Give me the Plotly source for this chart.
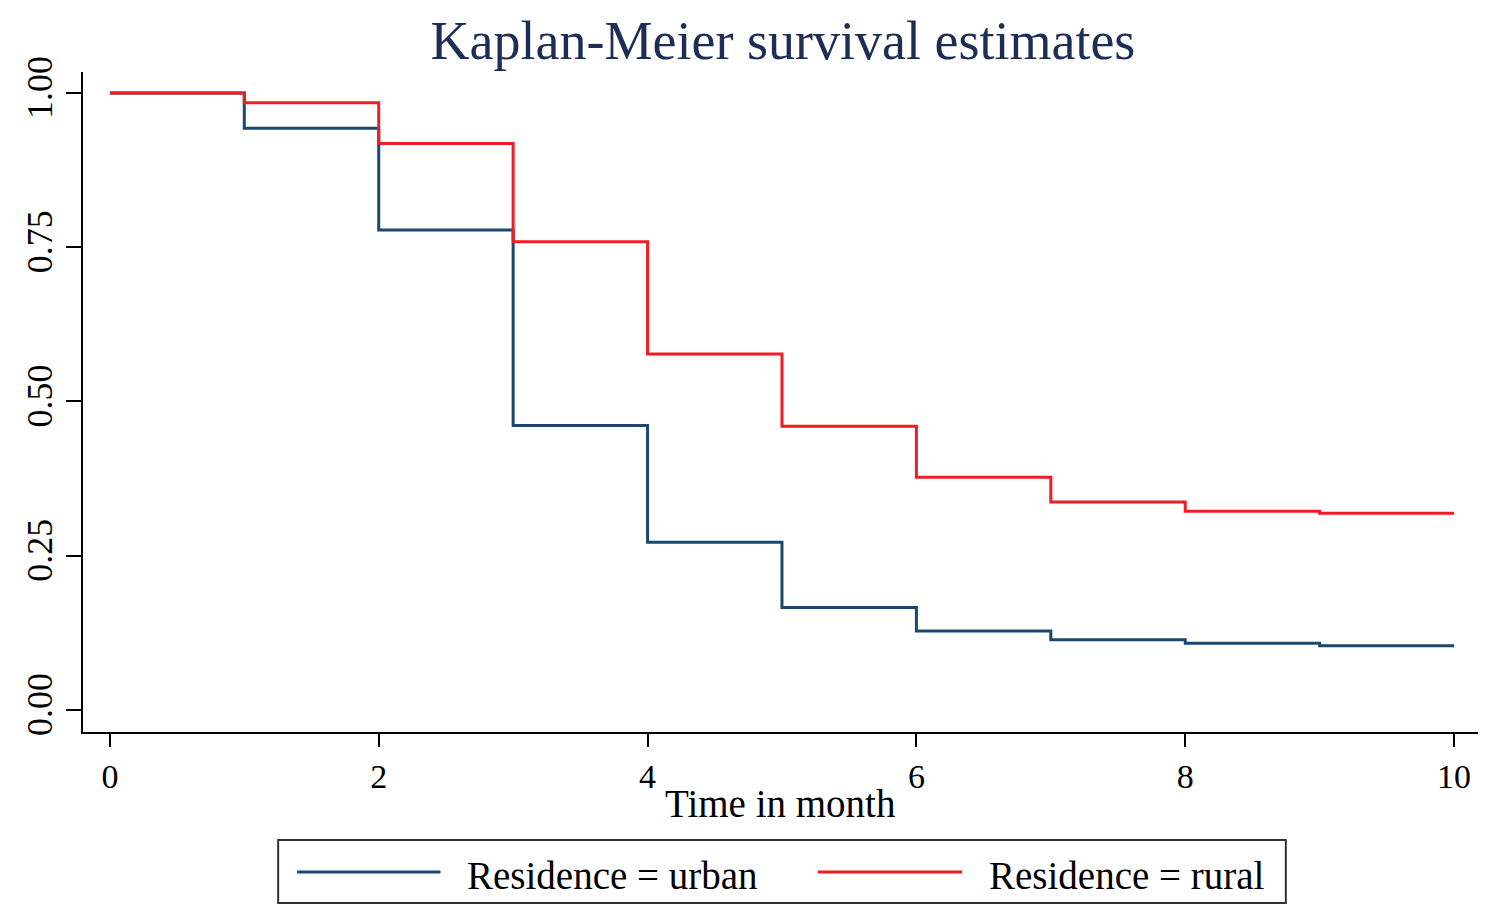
import plotly.graph_objects as go

time_months = [0, 1, 2, 3, 4, 5, 6, 7, 8, 9, 10]
urban_surv = [1.0, 0.943, 0.778, 0.461, 0.272, 0.166, 0.128, 0.114, 0.108, 0.104, 0.104]
rural_surv = [1.0, 0.984, 0.918, 0.759, 0.577, 0.460, 0.377, 0.337, 0.322, 0.319, 0.319]
x_ticks = [0, 2, 4, 6, 8, 10]
y_ticks = [0.0, 0.25, 0.5, 0.75, 1.0]
y_tick_text = ["0.00", "0.25", "0.50", "0.75", "1.00"]
labels = ["Residence = urban", "Residence = rural"]
colors = ["#1a476f", "#ee1d23"]

FONT = "Liberation Serif"

fig = go.Figure()
for ys, lab, col in zip([urban_surv, rural_surv], labels, colors):
    fig.add_trace(go.Scatter(x=time_months, y=ys, mode="lines", line_shape="hv",
                             line=dict(color=col, width=3), name=lab, showlegend=False))

OFF = 8  # page body offset
LEFT_PX, RIGHT_PX = 77, 1478
W, H = 1500 - 2 * OFF, 917 - OFF
L, R, T, B = LEFT_PX - OFF, 1500 - OFF - RIGHT_PX, 72 - OFF, 917 - 732
pw, ph = W - L - R, H - T - B

def px(x):
    return (x - LEFT_PX) / pw

def py(y):
    return (732 - y) / ph

shapes = [dict(type="rect", xref="paper", yref="paper", x0=px(273), x1=px(1285), y0=py(903), y1=py(840),
               line=dict(color="#333333", width=2), fillcolor="white", layer="below")]
annotations = [dict(xref="paper", yref="paper", x=px(777), y=py(803), xanchor="center", yanchor="middle",
                    text="Time in month", showarrow=False, font=dict(family=FONT, size=39, color="black"))]
for (x0, x1, tx), lab, col in zip([(292, 436, 461), (815, 960, 985)], labels, colors):
    shapes.append(dict(type="line", xref="paper", yref="paper", x0=px(x0), x1=px(x1), y0=py(872), y1=py(872),
                       line=dict(color=col, width=3)))
    annotations.append(dict(xref="paper", yref="paper", x=px(tx), y=py(875), xanchor="left", yanchor="middle",
                            text=lab, showarrow=False, font=dict(family=FONT, size=39, color="black")))

fig.update_layout(
    width=W, height=H,
    margin=dict(l=L, r=R, t=T, b=B),
    paper_bgcolor="white", plot_bgcolor="white",
    title=dict(text="Kaplan-Meier survival estimates", x=(783 - OFF) / W, xanchor="center",
               y=1 - (40 - OFF) / H, yanchor="middle",
               font=dict(family=FONT, size=54, color="#1e2d55")),
    xaxis=dict(range=[-0.2, 10.178], tickvals=x_ticks, ticks="outside", ticklen=13, tickwidth=1.5,
               tickcolor="black", showline=True, linecolor="black", linewidth=1.5, showgrid=False, zeroline=False,
               tickfont=dict(family=FONT, size=34, color="black")),
    yaxis=dict(range=[-0.0357, 1.034], tickvals=y_ticks, ticktext=y_tick_text, ticks="outside", ticklen=15,
               tickwidth=1.5, tickcolor="black", showline=True, linecolor="black", linewidth=1.5, showgrid=False,
               zeroline=False, tickangle=-90, tickfont=dict(family=FONT, size=36, color="black")),
    shapes=shapes, annotations=annotations,
)

fig.write_html("out.html")
